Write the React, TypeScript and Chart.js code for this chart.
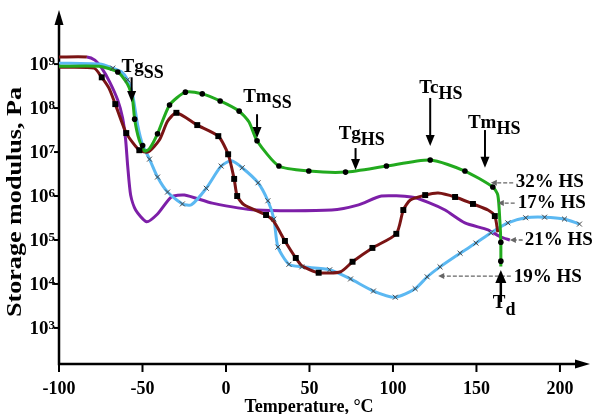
import React, { useEffect, useRef } from "react";
import { Chart, registerables } from "chart.js";

Chart.register(...registerables);

// ---------- axis ranges / ticks ----------
const X_MIN = -100;
const X_MAX = 218;
const Y_MIN = 10 ** 2.18;
const Y_MAX = 10 ** 10.23;
const xTickValues = [-100, -50, 0, 50, 100, 150, 200];
const yTickExponents = [3, 4, 5, 6, 7, 8, 9];

// ---------- 32% HS (green, dots) ----------
const hs32T = [-100, -76, -64.8, -59, -56, -54.7, -52, -48.7, -45.8, -41, -33.8, -24.3, -14.2, -3.5, 7.9, 13.8, 18.6, 31.7, 49.6, 71.6, 96.1, 122.3, 143.1, 159.8, 162.8, 164, 164.6, 164.6];
const hs32G = [8.9e8, 8.9e8, 6.6e8, 3.5e8, 1.6e8, 5.6e7, 1.9e7, 1.05e7, 1.2e7, 2.6e7, 1.17e8, 2.3e8, 2.1e8, 1.45e8, 8.5e7, 4.8e7, 1.8e7, 4.8e6, 3.7e6, 3.5e6, 4.8e6, 6.6e6, 3.7e6, 1.6e6, 1.05e6, 2.8e5, 8.9e4, 2.5e4];
const hs32MarkT = [-64.8, -54.7, -49.9, -41, -33.8, -24.3, -14.2, -3.5, 7.9, 18.6, 31.7, 49.6, 71.6, 96.1, 122.3, 143.1, 159.8, 164.6, 164.6];
const hs32MarkG = [6.6e8, 5.6e7, 1.4e7, 2.6e7, 1.17e8, 2.3e8, 2.1e8, 1.45e8, 8.5e7, 1.8e7, 4.8e6, 3.7e6, 3.5e6, 4.8e6, 6.6e6, 3.7e6, 1.6e6, 8.9e4, 3.3e4];

// ---------- 17% HS (dark red, squares) ----------
const hs17T = [-100, -79, -74.4, -70, -66.3, -59.7, -51.9, -46.6, -39.8, -35, -29.7, -17.2, -4.6, 1.3, 4.9, 6.7, 10.8, 24, 28.7, 35.3, 41.8, 45.4, 55.5, 68.7, 75.8, 87.7, 102, 106.2, 110.4, 119.3, 127.1, 137.2, 147.9, 156.9, 161, 162.8];
const hs17G = [8.5e8, 8.1e8, 5.0e8, 2.8e8, 1.23e8, 2.7e7, 1.1e7, 1.0e7, 1.9e7, 5.0e7, 7.8e7, 4.1e7, 2.3e7, 8.9e6, 2.45e6, 1.0e6, 6.3e5, 3.7e5, 2.6e5, 9.5e4, 3.9e4, 2.6e4, 1.8e4, 1.9e4, 3.2e4, 6.6e4, 1.38e5, 4.8e5, 8.1e5, 1.05e6, 1.17e6, 9.5e5, 6.6e5, 4.8e5, 3.5e5, 1.5e5];
const hs17MarkT = [-74.4, -66.3, -59.7, -51.9, -29.7, -17.2, -4.6, 1.3, 4.9, 6.7, 24, 35.3, 41.8, 55.5, 75.8, 87.7, 102, 106.2, 119.3, 137.2, 147.9, 161];
const hs17MarkG = [5.0e8, 1.23e8, 2.7e7, 1.1e7, 7.8e7, 4.1e7, 2.3e7, 8.9e6, 2.45e6, 1.0e6, 3.7e5, 9.5e4, 3.9e4, 1.8e4, 3.2e4, 6.6e4, 1.38e5, 4.8e5, 1.05e6, 9.5e5, 6.6e5, 3.5e5];

// ---------- 19% HS (light blue, x marks) ----------
const hs19T = [-100, -75.6, -67.8, -62.5, -58.9, -55.9, -52.9, -49.9, -45.8, -41, -35, -26.1, -20.7, -11.8, -2.9, 3.1, 9.7, 19.2, 25.1, 28.7, 31.1, 37.7, 45.4, 62.1, 74.6, 88.3, 101.4, 113.3, 120.5, 128.2, 140.2, 149.7, 158.6, 168.8, 179.5, 190.8, 202.7, 211.7];
const hs19G = [1.05e9, 1.0e9, 8.1e8, 6.6e8, 4.4e8, 2.0e8, 4.1e7, 1.45e7, 6.9e6, 2.7e6, 1.23e6, 6.6e5, 6.3e5, 1.5e6, 4.8e6, 6.3e6, 4.4e6, 2.0e6, 7.8e5, 3.0e5, 6.9e4, 2.8e4, 2.45e4, 2.1e4, 1.3e4, 6.9e3, 5.0e3, 7.8e3, 1.45e4, 2.45e4, 5.0e4, 8.5e4, 1.45e5, 2.45e5, 3.2e5, 3.3e5, 3.0e5, 2.3e5];
const hs19MarkT = [-67.8, -58.9, -45.8, -41, -35, -26.1, -11.8, -2.9, 9.7, 19.2, 25.1, 28.7, 31.1, 37.7, 45.4, 62.1, 74.6, 88.3, 101.4, 113.3, 120.5, 128.2, 140.2, 149.7, 158.6, 168.8, 179.5, 190.8, 202.7, 211.7];
const hs19MarkG = [8.1e8, 4.4e8, 6.9e6, 2.7e6, 1.23e6, 6.6e5, 1.5e6, 4.8e6, 4.4e6, 2.0e6, 7.8e5, 3.0e5, 6.9e4, 2.8e4, 2.45e4, 2.1e4, 1.3e4, 6.9e3, 5.0e3, 7.8e3, 1.45e4, 2.45e4, 5.0e4, 8.5e4, 1.45e5, 2.45e5, 3.2e5, 3.3e5, 3.0e5, 2.3e5];

// ---------- 21% HS (purple, no marks) ----------
const hs21T = [-100, -83.3, -78.5, -74.4, -69.6, -64.8, -61.9, -60.1, -58.9, -57.1, -54.1, -47.6, -41, -32.7, -24.9, -8.2, 18, 63.3, 79.4, 93.1, 111, 121.1, 131.2, 143.1, 156.9, 164.6, 170];
const hs21G = [1.45e9, 1.45e9, 1.23e9, 8.1e8, 3.9e8, 1.5e8, 5.9e7, 1.9e7, 5.0e6, 1.05e6, 4.8e5, 2.6e5, 3.9e5, 9.5e5, 1.05e6, 6.9e5, 4.8e5, 4.8e5, 6.3e5, 1.0e6, 9.5e5, 7.2e5, 4.8e5, 2.45e5, 1.7e5, 1.17e5, 1.0e5];

// ---------- annotation texts ----------
const transitionLabels = [
  { main: "Tg", sub: "SS", textT: -62.5, textE: 8.82, arrowT: -56.5, fromE: 8.7, toE: 8.14 },
  { main: "Tm", sub: "SS", textT: 10.3, textE: 8.14, arrowT: 18.6, fromE: 7.86, toE: 7.32 },
  { main: "Tg", sub: "HS", textT: 67.5, textE: 7.3, arrowT: 77.6, fromE: 7.09, toE: 6.59 },
  { main: "Tc", sub: "HS", textT: 115.7, textE: 8.34, arrowT: 122.3, fromE: 8.23, toE: 7.14 },
  { main: "Tm", sub: "HS", textT: 144.9, textE: 7.55, arrowT: 155.1, fromE: 7.5, toE: 6.64 },
];
const seriesLabels = [
  { text: "32% HS", tipT: 158.6, tipE: 6.3, endT: 172.0, textT: 173.5, textE: 6.2 },
  { text: "17% HS", tipT: 162.8, tipE: 5.84, endT: 172.9, textT: 174.7, textE: 5.73 },
  { text: "21% HS", tipT: 170.0, tipE: 5.0, endT: 177.7, textT: 178.9, textE: 4.89 },
  { text: "19% HS", tipT: 127.1, tipE: 4.18, endT: 170.6, textT: 172.3, textE: 4.05 },
];
const tdLabel = { main: "T", sub: "d", textT: 159.8, textE: 3.45, arrowT: 164.6, fromE: 3.59, toE: 4.32 };

const SERIF = '"Liberation Serif", "Times New Roman", "DejaVu Serif", serif';
const GREEN = "#22aa1e";
const DARKRED = "#7a1414";
const BLUE = "#5bb8f2";
const PURPLE = "#7d1fa8";

function pts(t: number[], g: number[]) {
  return t.map((x, i) => ({ x, y: g[i] }));
}

function arrow(ctx: CanvasRenderingContext2D, x1: number, y1: number, x2: number, y2: number, headLen: number, headW: number, color: string, lw: number, dash?: number[]) {
  const a = Math.atan2(y2 - y1, x2 - x1);
  const c = Math.cos(a), s = Math.sin(a);
  ctx.save();
  ctx.strokeStyle = color;
  ctx.fillStyle = color;
  ctx.lineWidth = lw;
  if (dash) ctx.setLineDash(dash);
  ctx.beginPath();
  ctx.moveTo(x1, y1);
  ctx.lineTo(x2 - c * headLen * 0.7, y2 - s * headLen * 0.7);
  ctx.stroke();
  ctx.setLineDash([]);
  ctx.beginPath();
  ctx.moveTo(x2, y2);
  ctx.lineTo(x2 - c * headLen - s * headW / 2, y2 - s * headLen + c * headW / 2);
  ctx.lineTo(x2 - c * headLen + s * headW / 2, y2 - s * headLen - c * headW / 2);
  ctx.closePath();
  ctx.fill();
  ctx.restore();
}

function subText(ctx: CanvasRenderingContext2D, x: number, y: number, main: string, sub: string, mainSize: number, subSize: number, drop: number) {
  ctx.save();
  ctx.fillStyle = "#000";
  ctx.textAlign = "left";
  ctx.textBaseline = "alphabetic";
  ctx.font = `bold ${mainSize}px ${SERIF}`;
  ctx.fillText(main, x, y);
  const w = ctx.measureText(main).width;
  ctx.font = `bold ${subSize}px ${SERIF}`;
  ctx.fillText(sub, x + w, y + drop);
  ctx.restore();
}

const decorPlugin = {
  id: "decor",
  beforeDatasetsDraw(chart: any) {
    const ctx: CanvasRenderingContext2D = chart.ctx;
    const xs = chart.scales.x;
    const ys = chart.scales.y;
    const { left, right, top, bottom } = chart.chartArea;
    ctx.save();
    ctx.strokeStyle = "#000";
    ctx.fillStyle = "#000";
    ctx.lineWidth = 2.5;
    ctx.beginPath();
    ctx.moveTo(left, top + 10);
    ctx.lineTo(left, bottom);
    ctx.lineTo(right - 10, bottom);
    ctx.stroke();
    ctx.beginPath();
    ctx.moveTo(left, top);
    ctx.lineTo(left - 4.5, top + 15);
    ctx.lineTo(left + 4.5, top + 15);
    ctx.closePath();
    ctx.fill();
    ctx.beginPath();
    ctx.moveTo(right, bottom);
    ctx.lineTo(right - 15, bottom - 4.5);
    ctx.lineTo(right - 15, bottom + 4.5);
    ctx.closePath();
    ctx.fill();
    ctx.lineWidth = 2;
    ctx.font = `bold 18px ${SERIF}`;
    ctx.textAlign = "center";
    ctx.textBaseline = "alphabetic";
    for (const v of xTickValues) {
      const x = xs.getPixelForValue(v);
      ctx.beginPath();
      ctx.moveTo(x, bottom);
      ctx.lineTo(x, bottom + 8);
      ctx.stroke();
      ctx.fillText(String(v), x, bottom + 30);
    }
    for (const e of yTickExponents) {
      const y = ys.getPixelForValue(10 ** e);
      ctx.beginPath();
      ctx.moveTo(left - 5, y);
      ctx.lineTo(left, y);
      ctx.stroke();
      ctx.textAlign = "right";
      ctx.font = `bold 13px ${SERIF}`;
      const es = String(e);
      const ew = ctx.measureText(es).width;
      ctx.fillText(es, left - 4, y + 1);
      ctx.font = `bold 19px ${SERIF}`;
      ctx.fillText("10", left - 4 - ew, y + 6);
    }
    ctx.textAlign = "center";
    ctx.font = `bold 18px ${SERIF}`;
    ctx.fillText("Temperature, °C", 309, bottom + 48);
    ctx.save();
    ctx.translate(21, 202);
    ctx.rotate(-Math.PI / 2);
    ctx.font = `bold 20px ${SERIF}`;
    const yt = "Storage modulus, Pa";
    const w = ctx.measureText(yt).width;
    ctx.scale(230 / w, 1);
    ctx.fillText(yt, 0, 0);
    ctx.restore();
    ctx.restore();
  },
  afterDatasetsDraw(chart: any) {
    const ctx: CanvasRenderingContext2D = chart.ctx;
    const xs = chart.scales.x;
    const ys = chart.scales.y;
    const px = (t: number) => xs.getPixelForValue(t);
    const py = (e: number) => ys.getPixelForValue(10 ** e);
    for (const a of transitionLabels) {
      subText(ctx, px(a.textT), py(a.textE), a.main, a.sub, 19, 18, 6);
      arrow(ctx, px(a.arrowT), py(a.fromE), px(a.arrowT), py(a.toE), 11, 9, "#000", 2);
    }
    for (const s of seriesLabels) {
      arrow(ctx, px(s.endT), py(s.tipE), px(s.tipT), py(s.tipE), 6, 6, "#666", 1.3, [4, 2]);
      ctx.save();
      ctx.fillStyle = "#000";
      ctx.font = `bold 19px ${SERIF}`;
      ctx.textAlign = "left";
      ctx.fillText(s.text, px(s.textT), py(s.textE));
      ctx.restore();
    }
    arrow(ctx, px(tdLabel.arrowT), py(tdLabel.fromE), px(tdLabel.arrowT), py(tdLabel.toE), 13, 11, "#000", 2.5);
    subText(ctx, px(tdLabel.textT), py(tdLabel.textE), tdLabel.main, tdLabel.sub, 19, 18, 7);
  },
};

export default function App() {
  const ref = useRef<HTMLCanvasElement | null>(null);
  useEffect(() => {
    if (!ref.current) return;
    const lineDs = (label: string, t: number[], g: number[], color: string, extra: any = {}) => ({
      label,
      data: pts(t, g),
      showLine: true,
      borderColor: color,
      borderWidth: 3,
      pointRadius: 0,
      tension: 0.22,
      fill: false,
      ...extra,
    });
    const markDs = (label: string, t: number[], g: number[], style: string, r: number, bg: string, bc: string, bw: number) => ({
      label,
      data: pts(t, g),
      showLine: false,
      pointStyle: style,
      pointRadius: r,
      backgroundColor: bg,
      borderColor: bc,
      borderWidth: bw,
    });
    const chart = new Chart(ref.current, {
      type: "scatter",
      data: {
        datasets: [
          markDs("32% HS marks", hs32MarkT, hs32MarkG, "circle", 2.8, "#000", "#000", 0),
          markDs("17% HS marks", hs17MarkT, hs17MarkG, "rect", 4.2, "#000", "#000", 0),
          markDs("19% HS marks", hs19MarkT, hs19MarkG, "crossRot", 3.5, "#444", "#444", 1),
          lineDs("32% HS", hs32T, hs32G, GREEN),
          lineDs("17% HS", hs17T, hs17G, DARKRED),
          lineDs("19% HS", hs19T, hs19G, BLUE),
          lineDs("21% HS", hs21T, hs21G, PURPLE, {
            segment: { borderColor: (c: any) => (c.p1.parsed.x <= -83 ? DARKRED : PURPLE) },
          }),
        ] as any,
      },
      options: {
        responsive: false,
        animation: false,
        devicePixelRatio: 1,
        layout: { padding: { left: 59, right: 3, top: 10, bottom: 50 } },
        plugins: { legend: { display: false }, tooltip: { enabled: false } },
        scales: {
          x: { type: "linear", min: X_MIN, max: X_MAX, display: false },
          y: { type: "logarithmic", min: Y_MIN, max: Y_MAX, display: false },
        },
      } as any,
      plugins: [decorPlugin],
    });
    return () => chart.destroy();
  }, []);
  return (
    <div style={{ position: "fixed", left: 0, top: 0, width: 595, height: 414, background: "#fff" }}>
      <canvas ref={ref} width={595} height={414} style={{ width: 595, height: 414, display: "block" }} />
    </div>
  );
}
